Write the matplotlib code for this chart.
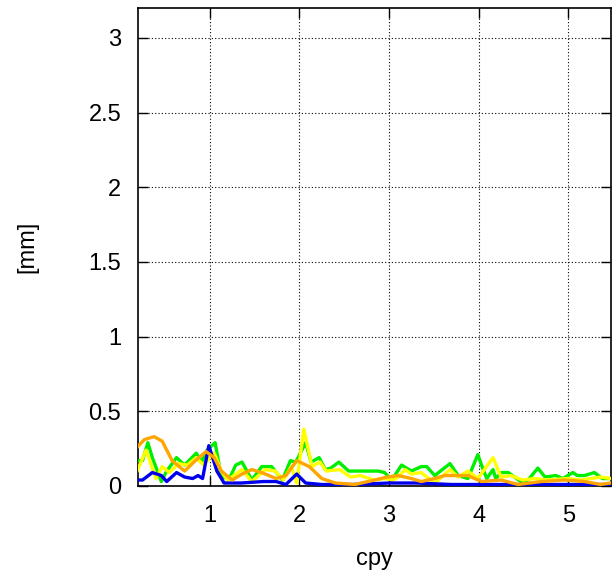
import matplotlib
matplotlib.use("Agg")
import matplotlib.pyplot as plt

# Green series
green_x = [0.19, 0.25, 0.31, 0.36, 0.46, 0.52, 0.63, 0.72, 0.85, 0.91, 0.97, 1.06, 1.13, 1.22,
           1.29, 1.36, 1.47, 1.58, 1.69, 1.81, 1.90, 1.96, 2.07, 2.13, 2.22, 2.29, 2.35, 2.44,
           2.55, 2.70, 2.88, 2.95, 3.03, 3.14, 3.25, 3.36, 3.42, 3.51, 3.68, 3.77, 3.88, 3.99,
           4.05, 4.09, 4.16, 4.19, 4.25, 4.33, 4.47, 4.55, 4.66, 4.74, 4.86, 4.94, 5.05, 5.10,
           5.18, 5.29, 5.38, 5.47]
green_y = [0.17, 0.17, 0.29, 0.19, 0.03, 0.10, 0.19, 0.14, 0.22, 0.16, 0.24, 0.29, 0.06, 0.05,
           0.14, 0.16, 0.04, 0.13, 0.13, 0.04, 0.17, 0.16, 0.29, 0.16, 0.19, 0.11, 0.12, 0.16,
           0.10, 0.10, 0.10, 0.09, 0.04, 0.14, 0.10, 0.13, 0.13, 0.07, 0.15, 0.07, 0.05, 0.21,
           0.11, 0.05, 0.11, 0.05, 0.09, 0.09, 0.03, 0.04, 0.12, 0.06, 0.07, 0.05, 0.09, 0.07,
           0.07, 0.09, 0.05, 0.05]

# Yellow series
yellow_x = [0.19, 0.29, 0.40, 0.47, 0.55, 0.65, 0.75, 0.85, 0.93, 1.05, 1.13, 1.20, 1.36, 1.47,
            1.62, 1.73, 1.82, 1.91, 1.97, 2.05, 2.14, 2.23, 2.30, 2.45, 2.57, 2.68, 2.83, 2.95,
            3.05, 3.10, 3.18, 3.25, 3.36, 3.51, 3.68, 3.77, 3.88, 3.99, 4.16, 4.25, 4.36, 4.49,
            4.62, 4.77, 4.99, 5.14, 5.36, 5.47]
yellow_y = [0.10, 0.24, 0.05, 0.13, 0.09, 0.15, 0.14, 0.19, 0.14, 0.22, 0.10, 0.04, 0.11, 0.03,
            0.11, 0.10, 0.04, 0.13, 0.02, 0.38, 0.13, 0.16, 0.10, 0.11, 0.06, 0.07, 0.04, 0.05,
            0.04, 0.06, 0.11, 0.08, 0.09, 0.02, 0.11, 0.06, 0.10, 0.05, 0.19, 0.06, 0.07, 0.04,
            0.05, 0.04, 0.05, 0.04, 0.06, 0.05]

# Blue series
blue_x = [0.19, 0.25, 0.36, 0.46, 0.52, 0.63, 0.72, 0.81, 0.87, 0.92, 0.99, 1.08, 1.16, 1.35,
          1.60, 1.74, 1.85, 1.97, 2.07, 2.25, 2.60, 3.00, 3.30, 3.70, 4.20, 4.80, 5.47]
blue_y = [0.04, 0.04, 0.09, 0.07, 0.03, 0.09, 0.06, 0.05, 0.07, 0.05, 0.27, 0.10, 0.02, 0.02,
          0.03, 0.03, 0.01, 0.08, 0.02, 0.01, 0.01, 0.02, 0.02, 0.01, 0.01, 0.01, 0.01]

# Orange (smooth) series
orange_x = [0.19, 0.27, 0.32, 0.38, 0.47, 0.58, 0.72, 0.84, 0.96, 1.05, 1.13, 1.25, 1.36, 1.47,
            1.58, 1.74, 1.85, 1.97, 2.11, 2.25, 2.40, 2.62, 2.84, 2.98, 3.10, 3.25, 3.36, 3.51,
            3.62, 3.88, 4.03, 4.25, 4.44, 4.70, 4.96, 5.18, 5.36, 5.47]
orange_y = [0.26, 0.31, 0.32, 0.33, 0.30, 0.17, 0.10, 0.17, 0.23, 0.19, 0.10, 0.04, 0.08, 0.11,
            0.09, 0.05, 0.07, 0.17, 0.13, 0.05, 0.02, 0.01, 0.04, 0.06, 0.07, 0.05, 0.03, 0.05,
            0.07, 0.07, 0.03, 0.04, 0.01, 0.03, 0.04, 0.03, 0.01, 0.02]

x_ticks = [1, 2, 3, 4, 5]
y_ticks = [0, 0.5, 1, 1.5, 2, 2.5, 3]
y_tick_labels = ["0", "0.5", "1", "1.5", "2", "2.5", "3"]

plt.rcParams['font.family'] = ['Liberation Sans', 'DejaVu Sans']

fig = plt.figure(figsize=(6.12, 5.73), dpi=100)
ax = fig.add_axes([138 / 612, 87 / 573, (610.5 - 138) / 612, (486 - 8) / 573])

lw = 2.4
ax.plot(green_x, green_y, color='#00ee00', lw=lw, zorder=3)
ax.plot(yellow_x, yellow_y, color='#ffff00', lw=lw, zorder=4)
ax.plot(blue_x, blue_y, color='#0000ee', lw=lw, zorder=5)
ax.plot(orange_x, orange_y, color='#ffa500', lw=lw, zorder=6)

ax.set_xlim(0.2, 5.47)
ax.set_ylim(0, 3.2)
ax.set_xticks(x_ticks)
ax.set_xticklabels([str(t) for t in x_ticks])
ax.set_yticks(y_ticks)
ax.set_yticklabels(y_tick_labels)

ax.grid(True, color='black', linestyle=(0, (1, 2)), linewidth=0.8)
ax.set_axisbelow(True)
ax.tick_params(direction='in', length=7, width=1, labelsize=17, top=True, right=True, pad=12)
ax.tick_params(axis='x', pad=14)
for s in ax.spines.values():
    s.set_linewidth(1.2)
    s.set_color('black')

ax.set_xlabel('cpy', fontsize=17, labelpad=15)
ax.set_ylabel('[mm]', fontsize=17, labelpad=36)

fig.savefig('out.png', dpi=100)
